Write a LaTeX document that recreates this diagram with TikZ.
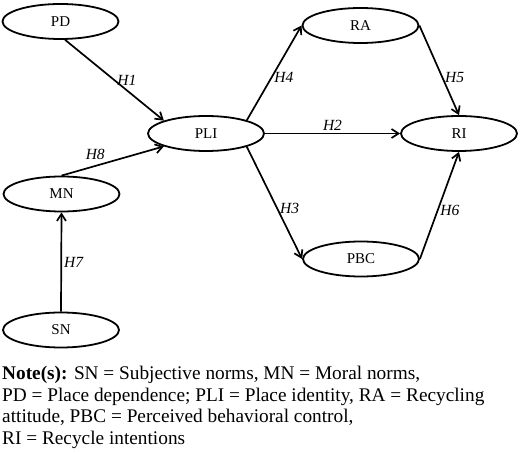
\documentclass[tikz,border=0pt]{standalone}
\usepackage{fontspec}
\setmainfont{Liberation Serif}
\usetikzlibrary{shapes,arrows.meta,positioning}
\tikzset{
	->,
	>={Straight Barb[length=7pt,width=9pt]},
	latent/.style={ellipse, draw, line width=1.8pt, minimum width=116pt, minimum height=35pt, inner sep=0pt, font=\fontsize{15}{17}\selectfont},
	hypline/.style={line width=1.7pt},
	hyp/.style={font=\fontsize{15.5}{17}\selectfont\itshape, inner sep=2pt},
}

\begin{document}
\begin{tikzpicture}[x=1pt, y=-1pt]
        \useasboundingbox (0,0) rectangle (520,454);
        \node[latent] (PD) at (60.5,21.5) {PD};
        \node[latent] (PLI) at (206,133.5) {PLI};
        \node[latent] (RA) at (360.5,25.5) {RA};
        \node[latent] (RI) at (459,133.5) {RI};
        \node[latent] (MN) at (61.5,194) {MN};
        \node[latent] (SN) at (61,330) {SN};
        \node[latent] (PBC) at (361,259) {PBC};

        \draw[hypline] (PD.-76) -- node[hyp, right] (h1) {H1} (PLI.163);
        \draw[hypline] (PLI.east) -- node[hyp, above] (h2) {H2} (RI.west);
        \draw[hypline] (PLI.-18) -- node[hyp, right, pos=.55] (h3) {H3} (PBC.west);
        \draw[hypline] (PLI.18) -- node[hyp, right, pos=.45] (h4) {H4} (RA.west);
        \draw[hypline] (RA.east) -- node[hyp, right, pos=.58] (h5) {H5} (RI.north);
        \draw[hypline] (PBC.east) -- node[hyp, right, pos=.45] (h6) {H6} (RI.south);
        \draw[hypline] (SN.north) -- node[hyp, right] (h7) {H7} (MN.south);
        \draw[hypline] (MN.north) -- node[hyp, above left, pos=.45] (h8) {H8} (PLI.197);

        \node[anchor=north west, align=left, inner sep=0pt, font=\fontsize{19.3}{21.5}\selectfont] (note) at (2,366)
            {\textbf{Note(s):} SN = Subjective norms, MN = Moral norms,\\
             PD = Place dependence; PLI = Place identity, RA = Recycling\\
             attitude, PBC = Perceived behavioral control,\\
             RI = Recycle intentions};
    \end{tikzpicture}
\end{document}
